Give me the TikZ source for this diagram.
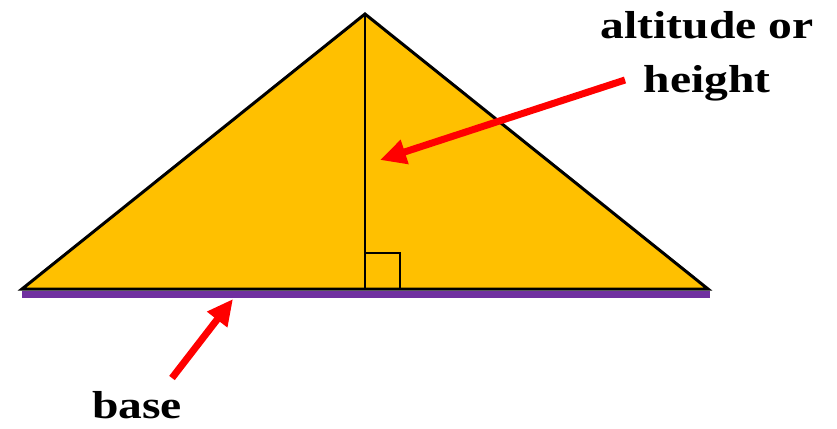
\documentclass[tikz,border=0pt]{standalone}
\usepackage{fontspec}
\setmainfont{Liberation Serif}
\usetikzlibrary{arrows.meta}
\definecolor{triyellow}{RGB}{255,192,0}
\definecolor{basepurple}{RGB}{112,48,160}
\definecolor{arrowred}{RGB}{255,0,0}

\begin{document}
\begin{tikzpicture}[x=1pt,y=-1pt,
    pointer/.style={draw=arrowred, line width=7pt, -{Triangle[length=26pt,width=24pt]}},
    bigtext/.style={font=\fontsize{39}{54}\selectfont\bfseries, xscale=1.22, inner sep=0pt, align=center}]
    \useasboundingbox (0,0) rectangle (837,428);

    % Vertices
    \coordinate (A) at (22,289);
    \coordinate (B) at (708,289);
    \coordinate (C) at (365,14);
    \coordinate (F) at (365,289);

    % Base
    \coordinate (baseL) at (22,294);
    \coordinate (baseR) at (710,294);
    \draw[basepurple, line width=7pt] (baseL) -- (baseR);

    % Triangle and altitude
    \draw[fill=triyellow, line width=3pt, line join=miter] (A) -- (B) -- (C) -- cycle;
    \draw[line width=2pt] (C) -- (F);
    \draw[line width=2pt] (F) rectangle (400,253);

    % Labels
    \node[bigtext] (alt) at (707,56) {altitude or\\height};
    \node[bigtext, anchor=base] (base) at (137,418) {base};

    % Pointers
    \coordinate (altTail) at (625,80);
    \coordinate (altTip) at (380,160);
    \coordinate (baseTail) at (172,378);
    \coordinate (baseTip) at (233,299);
    \draw[pointer] (altTail) -- (altTip);
    \draw[pointer] (baseTail) -- (baseTip);
\end{tikzpicture}
\end{document}
